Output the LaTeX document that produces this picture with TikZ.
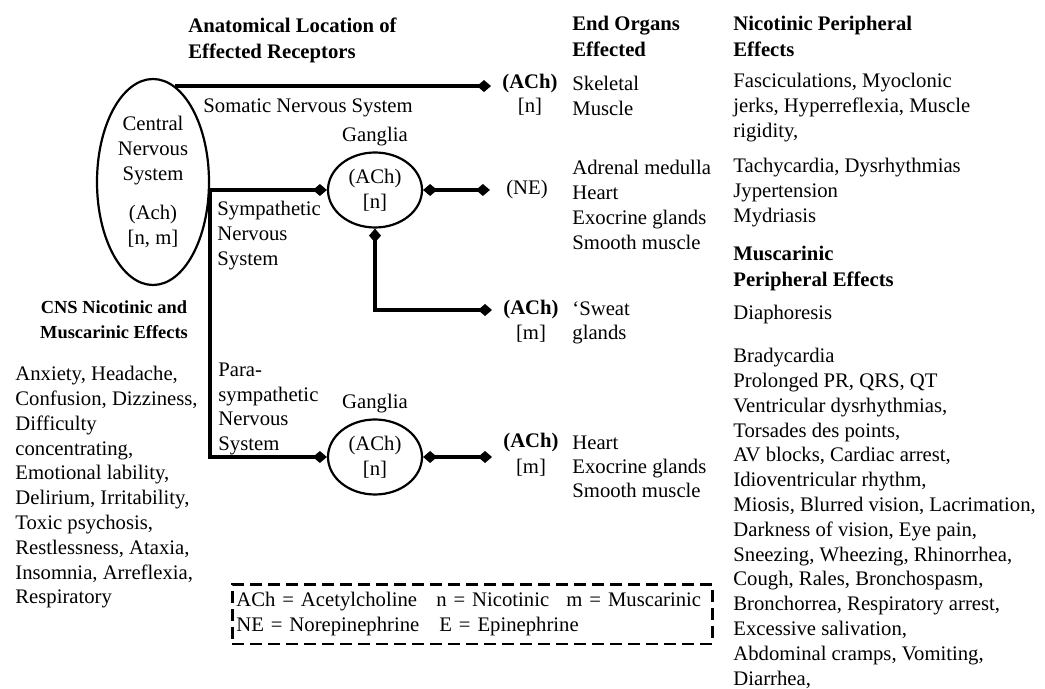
\documentclass[tikz,border=0pt]{standalone}
\usepackage{fontspec}
\setmainfont{Liberation Serif}
\usetikzlibrary{arrows.meta,positioning,shapes.geometric,calc}
\newcommand\bodyfont{\fontsize{10.35}{12.4}\selectfont}
\tikzset{
  dm/.tip={Diamond[length=7pt,width=6pt]},
  ovl/.style={draw,ellipse,line width=1.1pt,inner sep=0pt,align=center,font=\bodyfont},
  nrv/.style={line width=2.3pt},
  txt/.style={inner sep=0pt,align=left,anchor=north west,font=\bodyfont},
  hdr/.style={txt,font=\fontsize{10.35}{13}\selectfont\bfseries},
  nt/.style={inner xsep=5.5pt,inner ysep=0pt,font=\bodyfont},
  keybox/.style={draw,dash pattern=on 6pt off 3pt,line width=1.4pt,inner xsep=2pt,inner ysep=4pt,
    anchor=north west,align=left,text width=236pt,font=\bodyfont}
}
\begin{document}
\begin{tikzpicture}[x=0.5pt,y=-0.5pt]
  \useasboundingbox (0,0) rectangle (1045,689);

  % column headings
  \node[hdr] (hdrloc) at (188,18) {Anatomical Location of\\Effected Receptors};
  \node[hdr] (hdrorg) at (572,16) {End Organs\\Effected};
  \node[hdr] (hdrnic) at (733,16) {Nicotinic Peripheral\\Effects};
  \node[hdr] (hdrmus) at (733,246) {Muscarinic\\Peripheral Effects};
  \node[txt,anchor=north,align=center,font=\fontsize{9.2}{12.5}\selectfont\bfseries] (hdrcns) at (114,300)
    {CNS Nicotinic and\\Muscarinic Effects};

  % nervous system
  \node[ovl,minimum width=56pt,minimum height=103pt] (cns) at (153,182)
    {Central\\Nervous\\System\\[7pt](Ach)\\{[n, m]}};
  \node[ovl,minimum width=47pt,minimum height=37.5pt] (gang1) at (375,190) {(ACh)\\{[n]}};
  \node[ovl,minimum width=47pt,minimum height=37.5pt] (gang2) at (375,457) {(ACh)\\{[n]}};
  \node[txt,anchor=south,above=2.5pt of gang1] {Ganglia};
  \node[txt,anchor=south,above=2.5pt of gang2] {Ganglia};

  \node[txt] (somlbl) at (203,98) {Somatic Nervous System};
  \node[txt] (symlbl) at (217,201) {Sympathetic\\Nervous\\System};
  \node[txt,font=\fontsize{10.35}{12.2}\selectfont] (paralbl) at (218,363) {Para-\\sympathetic\\Nervous\\System};

  % transmitters
  \node[nt,font=\bodyfont\bfseries] (ach1) at (530,84) {(ACh)};
  \node[nt] at (530,107) {[n]};
  \node[nt,inner xsep=8pt] (ne) at (527,190) {(NE)};
  \node[nt,font=\bodyfont\bfseries] (ach3) at (531,310) {(ACh)};
  \node[nt] at (531,334) {[m]};
  \node[nt,font=\bodyfont\bfseries] (ach4) at (531,443) {(ACh)};
  \node[nt] at (531,468) {[m]};

  % end organs
  \node[txt] (org1) at (572,76) {Skeletal\\Muscle};
  \node[txt] (org2) at (572,160) {Adrenal medulla\\Heart\\Exocrine glands\\Smooth muscle};
  \node[txt] (org3) at (572,301) {‘Sweat\\glands};
  \node[txt,font=\fontsize{10.35}{11.8}\selectfont] (org4) at (572,436) {Heart\\Exocrine glands\\Smooth muscle};

  % effects
  \node[txt] (nic1) at (733,73) {Fasciculations, Myoclonic\\jerks, Hyperreflexia, Muscle\\rigidity,};
  \node[txt] (nic2) at (733,158) {Tachycardia, Dysrhythmias\\Jypertension\\Mydriasis};
  \node[txt] (mus1) at (733,305) {Diaphoresis};
  \node[txt] (mus2) at (733,348) {Bradycardia\\Prolonged PR, QRS, QT\\Ventricular dysrhythmias,\\
    Torsades des points,\\AV blocks, Cardiac arrest,\\Idioventricular rhythm,\\
    Miosis, Blurred vision, Lacrimation,\\Darkness of vision, Eye pain,\\
    Sneezing, Wheezing, Rhinorrhea,\\Cough, Rales, Bronchospasm,\\
    Bronchorrea, Respiratory arrest,\\Excessive salivation,\\
    Abdominal cramps, Vomiting,\\Diarrhea,};
  \node[txt] (cnslist) at (15,366) {Anxiety, Headache,\\Confusion, Dizziness,\\Difficulty\\
    concentrating,\\Emotional lability,\\Delirium, Irritability,\\Toxic psychosis,\\
    Restlessness, Ataxia,\\Insomnia, Arreflexia,\\Respiratory};

  % legend
  \node[keybox] (legend) at (231,583)
    {\makebox[100pt][l]{ACh = Acetylcholine}\makebox[65pt][l]{n = Nicotinic}m = Muscarinic\\
     \makebox[101.5pt][l]{NE = Norepinephrine}E = Epinephrine};

  % pathways
  \draw[nrv,-dm] (cns.77) -- (cns.77 -| ach1.west);
  \draw[nrv,dm-dm] (gang1.west) -- (cns.east |- gang1.west) |- (gang2.west);
  \draw[nrv,dm-dm] (gang1.east) -- (ne.west);
  \draw[nrv,dm-dm] (gang1.south) |- (ach3.west);
  \draw[nrv,dm-dm] (gang2.east) -- (gang2.east -| ach4.west);
\end{tikzpicture}
\end{document}
